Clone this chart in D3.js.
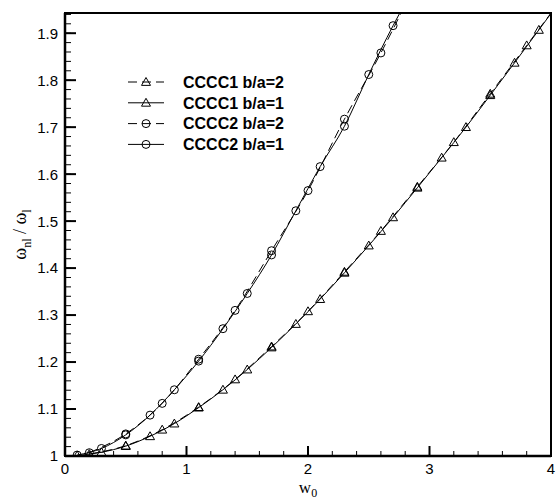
<!DOCTYPE html>
<html>
<head>
<meta charset="utf-8">
<script src="https://cdn.jsdelivr.net/npm/d3@7/dist/d3.min.js"></script>
<style>
  body { margin: 0; background: #fff; }
  svg { display: block; }
</style>
</head>
<body>
<svg id="chart"></svg>
<script>
// marker abscissas
const w0Step2 = [0.1, 0.3, 0.5, 0.7, 0.9, 1.1, 1.3, 1.5, 1.7, 1.9, 2.1, 2.3, 2.5, 2.7, 2.9, 3.1, 3.3, 3.5, 3.7, 3.9];
const w0Step3 = [0.2, 0.5, 0.8, 1.1, 1.4, 1.7, 2.0, 2.3, 2.6, 2.9, 3.2, 3.5, 3.8];

// CCCC1 (triangles)
const cccc1Ba1 = [1.001, 1.008, 1.021, 1.042, 1.069, 1.103, 1.141, 1.184, 1.231, 1.281, 1.334, 1.390, 1.448, 1.508, 1.571, 1.635, 1.700, 1.768, 1.837, 1.907];
const cccc1Ba2 = [1.004, 1.022, 1.056, 1.104, 1.163, 1.233, 1.308, 1.392, 1.479, 1.573, 1.668, 1.771, 1.874];
// CCCC2 (circles)
const cccc2Ba1 = [1.002, 1.016, 1.045, 1.087, 1.141, 1.202, 1.271, 1.346, 1.428, 1.522, 1.616, 1.702, 1.812, 1.916];
const cccc2Ba2 = [1.007, 1.047, 1.112, 1.206, 1.310, 1.437, 1.565, 1.717, 1.858];

// where each line leaves the frame (no marker)
const cccc1Ba1End = [4.0, 1.942];
const cccc1Ba2End = [4.0, 1.943];
const cccc2Ba1End = [2.77, 1.95];
const cccc2Ba2End = [2.78, 1.95];

const legendLabels = ['CCCC1 b/a=2', 'CCCC1 b/a=1', 'CCCC2 b/a=2', 'CCCC2 b/a=1'];

const xTicks = [0, 1, 2, 3, 4];
const yTicks = [1, 1.1, 1.2, 1.3, 1.4, 1.5, 1.6, 1.7, 1.8, 1.9];

const totalWidth = 558;
const totalHeight = 500;
const margin = { top: 13, right: 7, bottom: 44, left: 65 };
const width = totalWidth - margin.left - margin.right;
const height = totalHeight - margin.top - margin.bottom;

function pairs(xs, ys) {
  return ys.map((v, i) => [xs[i], v]);
}

const series = [
  { label: legendLabels[0], pts: pairs(w0Step3, cccc1Ba2), end: cccc1Ba2End, dashed: true, marker: 'tri' },
  { label: legendLabels[1], pts: pairs(w0Step2, cccc1Ba1), end: cccc1Ba1End, dashed: false, marker: 'tri' },
  { label: legendLabels[2], pts: pairs(w0Step3, cccc2Ba2), end: cccc2Ba2End, dashed: true, marker: 'circ' },
  { label: legendLabels[3], pts: pairs(w0Step2, cccc2Ba1), end: cccc2Ba1End, dashed: false, marker: 'circ' }
];

const svg = d3.select('#chart')
  .attr('width', totalWidth)
  .attr('height', totalHeight);

const g = svg.append('g')
  .attr('transform', `translate(${margin.left},${margin.top})`);

const x = d3.scaleLinear().domain([0, 4]).range([0, width]);
const y = d3.scaleLinear().domain([1, 1.943]).range([height, 0]);

g.append('clipPath').attr('id', 'plotClip')
  .append('rect').attr('width', width).attr('height', height);

// ticks (inward)
const xMinor = d3.range(0, 4.0001, 0.2);
const yMinor = d3.range(1, 1.943, 0.02);

g.append('g').selectAll('line').data(xMinor).join('line')
  .attr('x1', d => x(d)).attr('x2', d => x(d))
  .attr('y1', height).attr('y2', height - 5)
  .attr('stroke', '#000').attr('stroke-width', 1);
g.append('g').selectAll('line').data(xTicks).join('line')
  .attr('x1', d => x(d)).attr('x2', d => x(d))
  .attr('y1', height).attr('y2', height - 10)
  .attr('stroke', '#000').attr('stroke-width', 2);

g.append('g').selectAll('line').data(yMinor).join('line')
  .attr('x1', 0).attr('x2', 6)
  .attr('y1', d => y(d)).attr('y2', d => y(d))
  .attr('stroke', '#000').attr('stroke-width', 1);
g.append('g').selectAll('line').data(yTicks).join('line')
  .attr('x1', 0).attr('x2', 11)
  .attr('y1', d => y(d)).attr('y2', d => y(d))
  .attr('stroke', '#000').attr('stroke-width', 2);

// tick labels
g.append('g').selectAll('text').data(xTicks).join('text')
  .attr('x', d => x(d)).attr('y', height + 18)
  .attr('text-anchor', 'middle')
  .style('font', '15px "Liberation Sans", Arial, sans-serif')
  .text(d => d3.format('d')(d));

g.append('g').selectAll('text').data(yTicks).join('text')
  .attr('x', -7).attr('y', d => y(d))
  .attr('dy', '0.36em')
  .attr('text-anchor', 'end')
  .style('font', '15px "Liberation Sans", Arial, sans-serif')
  .text(d => d === 1 ? '1' : d3.format('.1f')(d));

// curves
const line = d3.line()
  .x(d => x(d[0]))
  .y(d => y(d[1]))
  .curve(d3.curveMonotoneX);

const curves = g.append('g').attr('clip-path', 'url(#plotClip)');

function drawMarker(sel, type, cx, cy) {
  if (type === 'circ') {
    sel.append('circle')
      .attr('cx', cx).attr('cy', cy).attr('r', 4)
      .attr('fill', 'none').attr('stroke', '#000').attr('stroke-width', 1);
  } else {
    const s = 4.5;
    sel.append('path')
      .attr('d', `M${cx},${cy - s}L${cx + s},${cy + s * 0.75}L${cx - s},${cy + s * 0.75}Z`)
      .attr('fill', 'none').attr('stroke', '#000').attr('stroke-width', 1);
  }
}

series.forEach(s => {
  curves.append('path')
    .datum(s.pts.concat([s.end]))
    .attr('d', line)
    .attr('fill', 'none')
    .attr('stroke', '#000')
    .attr('stroke-width', 1)
    .attr('stroke-dasharray', s.dashed ? '9,5' : null);
  s.pts.forEach(p => drawMarker(curves, s.marker, x(p[0]), y(p[1])));
});

// frame
g.append('rect')
  .attr('width', width).attr('height', height)
  .attr('fill', 'none').attr('stroke', '#000').attr('stroke-width', 2);
g.append('line').attr('x1', 0).attr('x2', 0).attr('y1', 0).attr('y2', height)
  .attr('stroke', '#000').attr('stroke-width', 2.5);
g.append('line').attr('x1', 0).attr('x2', width).attr('y1', height).attr('y2', height)
  .attr('stroke', '#000').attr('stroke-width', 2.5);

// legend
const legend = svg.append('g').attr('transform', 'translate(128,82)');
series.forEach((s, i) => {
  const row = legend.append('g').attr('transform', `translate(0,${i * 20.8})`);
  row.append('line')
    .attr('x1', 0).attr('x2', 36).attr('y1', 0).attr('y2', 0)
    .attr('stroke', '#000').attr('stroke-width', 1)
    .attr('stroke-dasharray', s.dashed ? '9,5' : null);
  drawMarker(row, s.marker, 18, 0);
  row.append('text')
    .attr('x', 55).attr('y', 0).attr('dy', '0.36em')
    .style('font', 'bold 16px "Liberation Sans", Arial, sans-serif')
    .text(s.label);
});

// axis titles
const xTitle = svg.append('text')
  .attr('x', margin.left + width / 2).attr('y', 493)
  .attr('text-anchor', 'middle')
  .style('font', '17px "Liberation Serif", "Times New Roman", serif');
xTitle.append('tspan').text('w');
xTitle.append('tspan').attr('dy', 4).style('font-size', '12px').text('0');

const yTitle = svg.append('text')
  .attr('transform', `translate(26,${margin.top + height / 2}) rotate(-90)`)
  .attr('text-anchor', 'middle')
  .style('font', '18px "Liberation Serif", "Times New Roman", serif');
yTitle.append('tspan').text('\u03c9');
yTitle.append('tspan').attr('dy', 5).style('font-size', '12px').text('nl');
yTitle.append('tspan').attr('dy', -5).text(' / \u03c9');
yTitle.append('tspan').attr('dy', 5).style('font-size', '12px').text('l');
</script>
</body>
</html>
